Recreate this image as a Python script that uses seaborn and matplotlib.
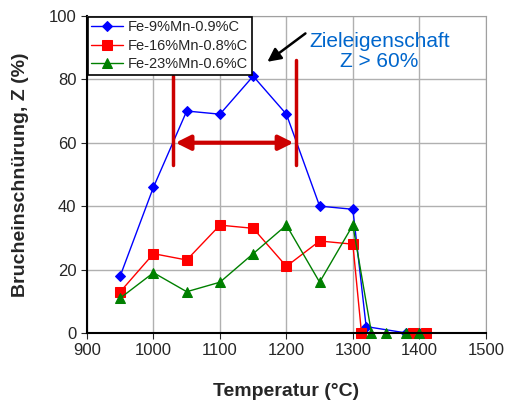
import numpy as np
import pandas as pd
import matplotlib
matplotlib.use("Agg")
import matplotlib.pyplot as plt
import seaborn as sns

# data
temp_9 = [950, 1000, 1050, 1100, 1150, 1200, 1250, 1300, 1320, 1380, 1400]
z_9 = [18, 46, 70, 69, 81, 69, 40, 39, 2, 0, 0]
temp_16 = [950, 1000, 1050, 1100, 1150, 1200, 1250, 1300, 1313, 1390, 1410]
z_16 = [13, 25, 23, 34, 33, 21, 29, 28, 0, 0, 0]
temp_23 = [950, 1000, 1050, 1100, 1150, 1200, 1250, 1300, 1328, 1350, 1380, 1400]
z_23 = [11, 19, 13, 16, 25, 34, 16, 34, 0, 0, 0, 0]
labels = ["Fe-9%Mn-0.9%C", "Fe-16%Mn-0.8%C", "Fe-23%Mn-0.6%C"]

df = pd.concat([
    pd.DataFrame({"T": temp_9, "Z": z_9, "alloy": labels[0]}),
    pd.DataFrame({"T": temp_16, "Z": z_16, "alloy": labels[1]}),
    pd.DataFrame({"T": temp_23, "Z": z_23, "alloy": labels[2]}),
])

sns.set_style("white")
plt.rcParams['font.family'] = ['Liberation Sans', 'DejaVu Sans']

fig = plt.figure(figsize=(5.06, 4.08), dpi=100)
ax = fig.add_axes([0.172, 0.184, 0.788, 0.777])

colors = ["#0000FF", "#FF0000", "#008000"]
markers = ["D", "s", "^"]
msizes = [5, 7, 7]
for lab, c, m, ms in zip(labels, colors, markers, msizes):
    sub = df[df["alloy"] == lab]
    sns.lineplot(data=sub, x="T", y="Z", ax=ax, color=c, marker=m, markersize=ms,
                 markeredgecolor=c, linewidth=1, label=lab, sort=False, clip_on=False)

ax.set_xlim(900, 1500)
ax.set_ylim(0, 100)
ax.set_xticks(range(900, 1501, 100))
ax.set_yticks(range(0, 101, 20))
ax.grid(True, color="#b0b0b0", linewidth=1)
ax.set_axisbelow(True)
for s in ["top", "right"]:
    ax.spines[s].set_color("#a0a0a0")
for s in ["left", "bottom"]:
    ax.spines[s].set_color("black")
    ax.spines[s].set_linewidth(1.5)
ax.tick_params(axis="both", labelsize=12, length=4, direction="out", left=True, bottom=True)

ax.set_xlabel("Temperatur (°C)", fontsize=14, fontweight="bold", labelpad=18)
ax.set_ylabel("Brucheinschnürung, Z (%)", fontsize=14, fontweight="bold", labelpad=14)

leg = ax.legend(loc="upper left", fontsize=10.5, frameon=True, fancybox=False,
                edgecolor="black", borderpad=0.25, labelspacing=0.3,
                handlelength=2.2, handletextpad=0.3, borderaxespad=0.05)
leg.get_frame().set_linewidth(1.2)
leg.get_frame().set_alpha(1)

# target range marker
red = "#CC0000"
ax.plot([1029, 1029], [53, 81], color=red, linewidth=2.5)
ax.plot([1215, 1215], [53, 86], color=red, linewidth=2.5)
ax.annotate("", xy=(1029, 60), xytext=(1215, 60),
            arrowprops=dict(arrowstyle="<|-|>", color=red, linewidth=3, mutation_scale=22))

ax.annotate("", xy=(1168, 85), xytext=(1232, 95),
            arrowprops=dict(arrowstyle="-|>", color="black", linewidth=1.8, mutation_scale=20))
ax.text(1340, 95, "Zieleigenschaft\nZ > 60%", color="#0066CC", fontsize=15,
        ha="center", va="top", linespacing=1.1)

fig.savefig("out.png", dpi=100)
